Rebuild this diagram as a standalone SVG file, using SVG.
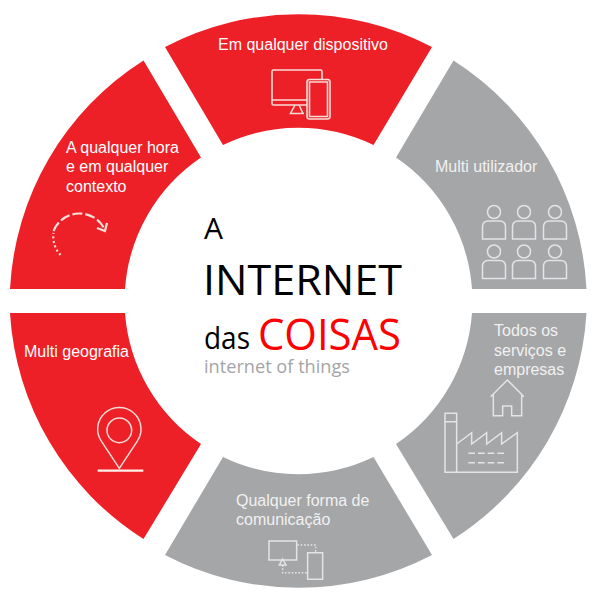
<svg xmlns="http://www.w3.org/2000/svg" width="600" height="600" viewBox="0 0 600 600">
<style>
.r{fill:#ed2027}.g{fill:#a5a6a8}
.l{font-family:"Liberation Sans",Arial,sans-serif;font-size:16px;fill:#fff}
.lg{fill:#f1f1f1}
.c{font-family:"Open Sans","Noto Sans",sans-serif;fill:#000}
.i{fill:none;stroke:#f6dcd6;stroke-width:1.6}
.j{fill:none;stroke:#e2e4e5;stroke-width:1.5}
.k{fill:none;stroke:#e2e4e5;stroke-width:4.5}
</style>
<rect width="600" height="600" fill="#fff"/>
<g id="node-dispositivo">
<path class="r" d="M165 47A288 288 0 0 1 432 47L373.5 145A173.5 173.500 0 0 0 223 145Z"/>
<text class="l" x="218" y="50">Em qualquer dispositivo</text>
<g class="i"><rect x="272" y="70" width="50" height="35" rx="1.5"/><path d="M272 100H307M295 105L290.500 113.500H304M299 105L303 113.500"/><rect x="307" y="79.500" width="23" height="39.500" rx="2.500" class="r" style="stroke:#f6dcd6"/><path d="M309.500 82H327.500V116.500H309.500Z"/></g>
</g>
<g id="node-utilizador">
<path class="g" d="M453.500 60.500A288 288 0 0 1 586.500 289H472A173.500 173.500 0 0 0 396 157.500Z"/>
<text class="l lg" x="435" y="172">Multi utilizador</text>
<defs><g id="p" class="j"><circle cx="0" cy="0" r="6.500"/><path d="M-11.500 27V15Q-11.500 9 -5.500 9H5.500Q11.500 9 11.500 15V27Z"/></g></defs>
<use href="#p" x="494" y="212"/><use href="#p" x="524" y="212"/><use href="#p" x="555" y="212"/>
<use href="#p" x="494" y="251.500"/><use href="#p" x="524" y="251.500"/><use href="#p" x="555" y="251.500"/>
</g>
<g id="node-servicos">
<path class="g" d="M472 313H586.500A288 288 0 0 1 453.500 539L396 444A173.500 173.500 0 0 0 472 313Z"/>
<text class="l lg" x="494" y="336">Todos os</text>
<text class="l lg" x="494" y="355.500">serviços e</text>
<text class="l lg" x="494" y="375">empresas</text>
<g transform="translate(390 300) scale(.3333)">
<path class="k" d="M302 290L352 240L402 290M310 282V347H338V318H365V347H395V282"/>
<path class="k" d="M165 340H200V517H165ZM165 365H200M200 432L245 398V432L290 398V432L335 398V432L382 398V517H200"/>
<path class="k" stroke-dasharray="20 9" d="M235 460H342M235 488H342"/>
</g>
</g>
<g id="node-comunicacao">
<path class="g" d="M223 457A173.500 173.500 0 0 0 373.500 457L432 555A288 288 0 0 1 165 555Z"/>
<text class="l lg" x="236" y="505.500">Qualquer forma de</text>
<text class="l lg" x="236" y="525">comunicação</text>
<g transform="translate(160 450) scale(.3333)">
<path class="k" d="M327 273H410V330H327ZM368 327L358 345H378ZM443 308H488V388H443Z"/>
<path class="k" stroke-dasharray="5 5" d="M412 285H467V308M368 345V368H443"/>
</g>
</g>
<g id="node-geografia">
<path class="r" d="M10 313H125A173.500 173.500 0 0 0 201 444L143.500 539A288 288 0 0 1 10 313Z"/>
<text class="l" x="24" y="357">Multi geografia</text>
<g transform="translate(0 300) scale(.3333)">
<path class="i" style="stroke-width:4.500" d="M358 505L305 425A65 65 0 1 1 411 425Z"/>
<circle class="i" style="stroke-width:4.500" cx="358" cy="391" r="37"/>
<path class="i" style="stroke-width:7;stroke:#fff0ea" d="M293 512H430"/>
</g>
</g>
<g id="node-hora">
<path class="r" d="M143.500 60.500L201 157.500A173.500 173.500 0 0 0 125 289H10A288 288 0 0 1 143.500 60.500Z"/>
<text class="l" x="66" y="152.500">A qualquer hora</text>
<text class="l" x="66" y="172">e em qualquer</text>
<text class="l" x="66" y="191.500">contexto</text>
<g fill="none" stroke="#f8e0d8" stroke-width="2.200">
<path stroke-dasharray="2 2.600" d="M60.500 255A27 27 0 0 1 53.500 233"/>
<path stroke-dasharray="10 3" d="M53.500 231A28 28 0 0 1 105 230"/>
<path d="M107 223L105 231L97 228"/>
</g>
</g>
<g id="center">
<text class="c" x="204" y="239" font-size="30">A</text>
<text class="c" x="203" y="295" font-size="42" textLength="199" lengthAdjust="spacingAndGlyphs">INTERNET</text>
<text class="c" x="204" y="349" font-size="31" textLength="46" lengthAdjust="spacingAndGlyphs">das</text>
<text class="c" x="258" y="350" font-size="43" textLength="143" lengthAdjust="spacingAndGlyphs" style="fill:#f00">COISAS</text>
<text class="c" x="204" y="373" font-size="19" textLength="146" lengthAdjust="spacingAndGlyphs" style="fill:#a4a4a6">internet of things</text>
</g>
<g id="connectors"/>
</svg>
